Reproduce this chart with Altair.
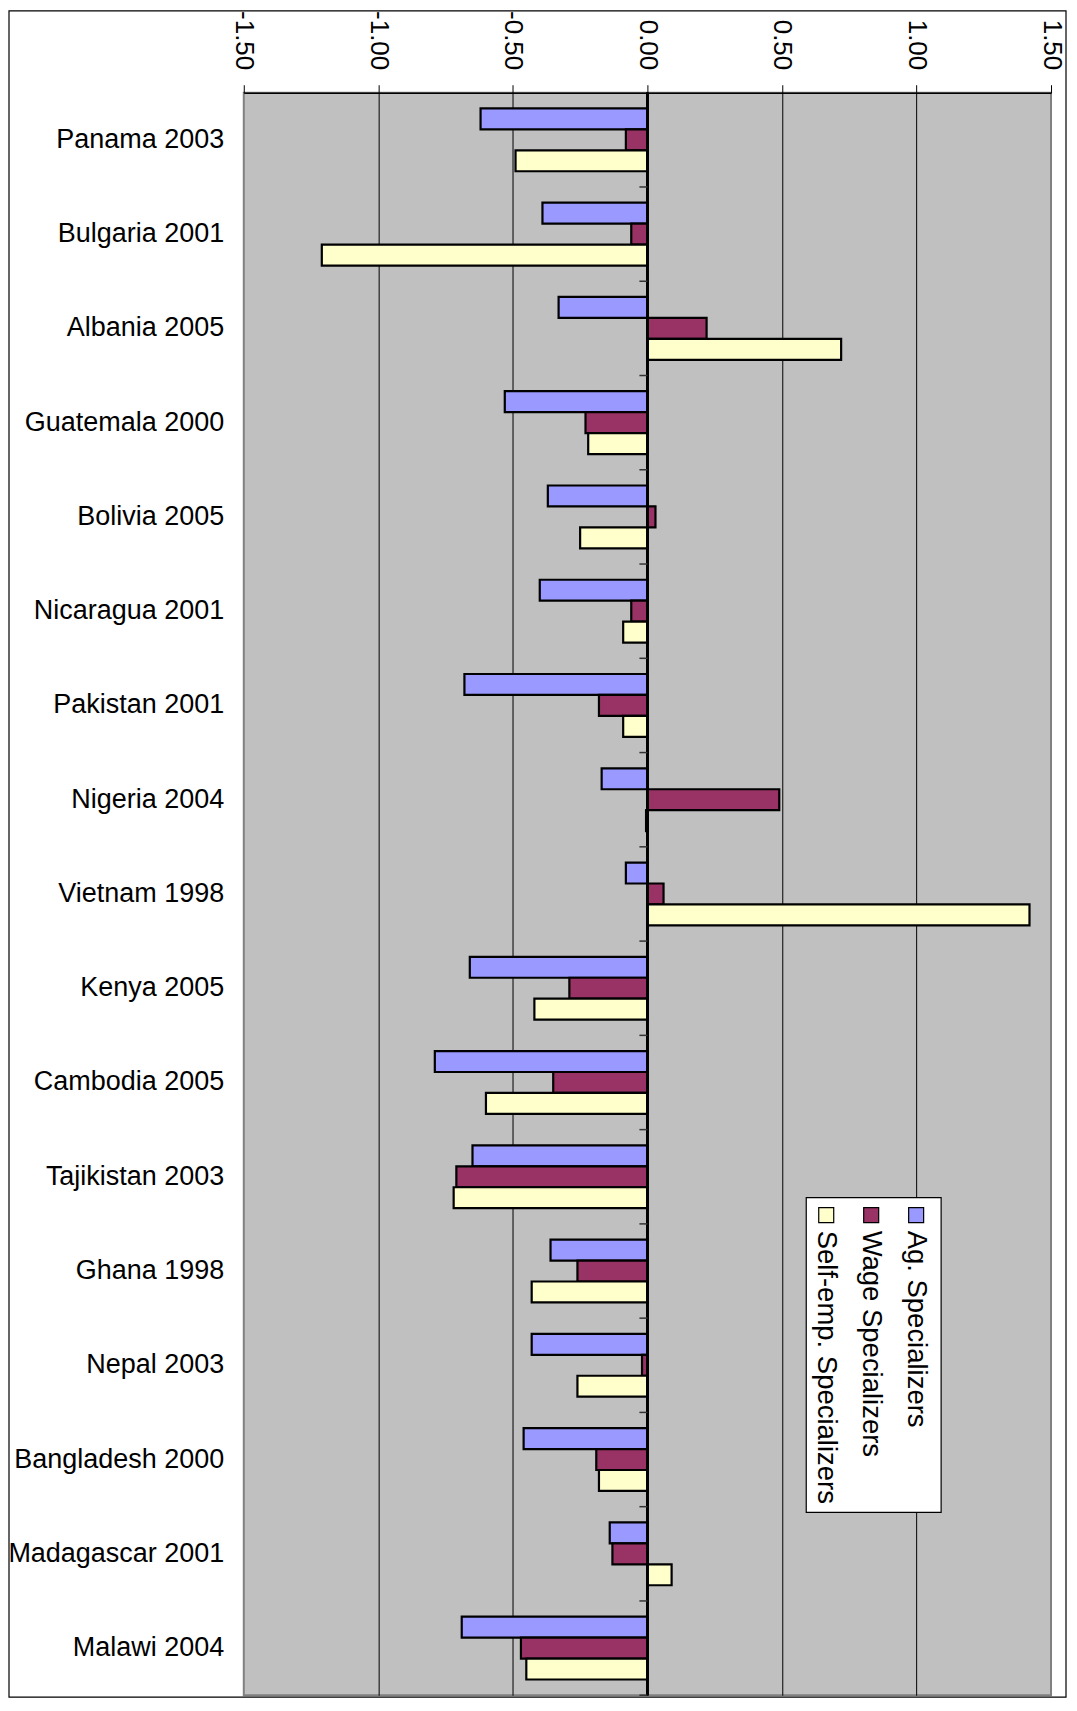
import altair as alt
import pandas as pd

categories = ["Panama 2003", "Bulgaria 2001", "Albania 2005", "Guatemala 2000",
              "Bolivia 2005", "Nicaragua 2001", "Pakistan 2001", "Nigeria 2004",
              "Vietnam 1998", "Kenya 2005", "Cambodia 2005", "Tajikistan 2003",
              "Ghana 1998", "Nepal 2003", "Bangladesh 2000", "Madagascar 2001",
              "Malawi 2004"]
series = ["Ag. Specializers", "Wage Specializers", "Self-emp. Specializers"]
ag_values = [-0.62, -0.39, -0.33, -0.53, -0.37, -0.40, -0.68, -0.17, -0.08,
             -0.66, -0.79, -0.65, -0.36, -0.43, -0.46, -0.14, -0.69]
wage_values = [-0.08, -0.06, 0.22, -0.23, 0.03, -0.06, -0.18, 0.49, 0.06,
               -0.29, -0.35, -0.71, -0.26, -0.02, -0.19, -0.13, -0.47]
self_values = [-0.49, -1.21, 0.72, -0.22, -0.25, -0.09, -0.09, -0.005, 1.42,
               -0.42, -0.60, -0.72, -0.43, -0.26, -0.18, 0.09, -0.45]
x_ticks = [-1.5, -1.0, -0.5, 0.0, 0.5, 1.0, 1.5]
colors = ["#9999FF", "#993366", "#FFFFCC"]

FONT = "Liberation Sans"

rows = []
for s, vals in zip(series, [ag_values, wage_values, self_values]):
    for c, v in zip(categories, vals):
        rows.append({"cat": c, "series": s, "value": v})
df = pd.DataFrame(rows)
cat_df = pd.DataFrame({"cat": categories})

x_scale = alt.Scale(domain=[-1.5, 1.5], nice=False, zero=False)
y_scale = alt.Scale(paddingInner=0, paddingOuter=0)

x_axis = alt.Axis(orient="top", values=x_ticks, title=None,
                  labelExpr="(datum.value < 0 ? '-' : '') + format(abs(datum.value), '.2f')",
                  labelAngle=90, labelAlign="right", labelBaseline="middle",
                  labelFont=FONT, labelFontSize=26, labelColor="black",
                  labelPadding=15, tickSize=8, tickColor="black",
                  domainColor="black", domainWidth=1.5,
                  grid=True,
                  gridColor={"condition": {"test": "abs(datum.value) == 1.5",
                                           "value": "transparent"},
                             "value": "black"},
                  gridWidth=1, gridOpacity=1)
y_axis = alt.Axis(orient="left", title=None, ticks=False, tickSize=0,
                  domain=False, labelFont=FONT, labelFontSize=27,
                  labelColor="black", labelAlign="right",
                  labelPadding=20, labelLimit=500)

bars = alt.Chart(df).mark_bar(stroke="black", strokeWidth=2.2).encode(
    x=alt.X("value:Q", scale=x_scale, axis=x_axis),
    x2=alt.datum(0),
    y=alt.Y("cat:N", sort=categories, scale=y_scale, axis=y_axis),
    yOffset=alt.YOffset("series:N", sort=series,
                        scale=alt.Scale(paddingInner=0, paddingOuter=0.75)),
    fill=alt.Fill("series:N", sort=series,
                  scale=alt.Scale(domain=series, range=colors), legend=None),
)

zero_line = alt.Chart(cat_df).mark_rule(color="black", strokeWidth=1.5).encode(
    x=alt.datum(0)
)

cat_ticks = alt.Chart(cat_df).mark_rule(color="#333333", strokeWidth=1.5,
                                        x2Offset=-8).encode(
    y=alt.Y("cat:N", sort=categories, scale=y_scale, axis=y_axis, bandPosition=1),
    x=alt.datum(0),
    x2=alt.datum(0),
)

one = pd.DataFrame({"k": [0]})

legend_box = alt.Chart(one).mark_rect(fill="white", stroke="black",
                                      strokeWidth=1.2).encode(
    x=alt.value(563), x2=alt.value(698), y=alt.value(1106), y2=alt.value(1421)
)

legend_layers = [legend_box]
for i, (s, col) in enumerate(zip(series, colors)):
    cx = 673 - 45 * i
    sym = alt.Chart(pd.DataFrame({"s": [s]})).mark_rect(
        fill=col, stroke="black", strokeWidth=1.2).encode(
        x=alt.value(cx - 7.5), x2=alt.value(cx + 7.5),
        y=alt.value(1116), y2=alt.value(1131))
    txt = alt.Chart(pd.DataFrame({"s": [s]})).mark_text(
        angle=90, align="left", baseline="middle", font=FONT, fontSize=27.5,
        color="black").encode(
        text="s:N", x=alt.value(cx), y=alt.value(1139))
    legend_layers += [sym, txt]

frame = alt.Chart(one).mark_rect(fill="transparent", stroke="black",
                                 strokeWidth=1.2).encode(
    x=alt.value(-235), x2=alt.value(823), y=alt.value(-82), y2=alt.value(1606)
)

chart = alt.layer(bars, zero_line, cat_ticks, *legend_layers, frame).properties(
    width=808, height=1604,
    padding={"left": 236, "top": 84, "right": 18, "bottom": 4},
    autosize=alt.AutoSizeParams(type="none"),
    background="white",
).configure_view(
    fill="#C0C0C0", stroke="#808080", strokeWidth=2
)

chart.save("out.html", embed_options={"renderer": "svg", "actions": False})
